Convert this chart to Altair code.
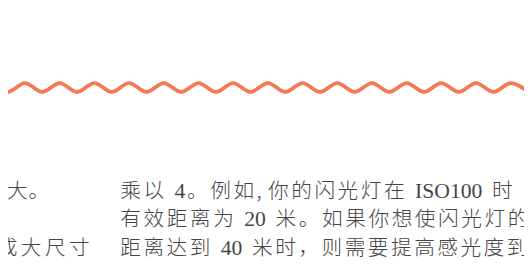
import altair as alt
import pandas as pd

# ---- data (reference pixel coordinates) ----
wave_x = [-10.1, 7.6, 25.2, 42.8, 60.4, 78.1, 95.7, 113.3, 130.9, 148.6,
          166.2, 183.8, 201.4, 219.1, 236.6, 254.3, 271.9, 289.5, 307.1, 324.8,
          342.4, 360.0, 377.6, 395.3, 412.8, 430.5, 448.1, 465.8, 483.3, 501.0,
          518.6, 536.3]
wave_y = [82.3, 91.3, 82.3, 91.3, 82.3, 91.3, 82.3, 91.3, 82.3, 91.3,
          82.3, 91.3, 82.3, 91.3, 82.3, 91.3, 82.3, 91.3, 82.3, 91.3,
          82.3, 91.3, 82.3, 91.3, 82.3, 91.3, 82.3, 91.3, 82.3, 91.3,
          82.3, 91.3]

left_lines = ["越大。", "", "制成大尺寸"]
right_lines = ["乘以 4。例如,你的闪光灯在 ISO100 时",
               "有效距离为 20 米。如果你想使闪光灯的",
               "距离达到 40 米时，则需要提高感光度到"]

# ---- simple typesetting ----
BASELINES = [198.5, 227.8, 257.1]
LAT_FS = 22
TIMES = {"0": .5, "1": .5, "2": .5, "3": .5, "4": .5, "5": .5, "6": .5,
         "7": .5, "8": .5, "9": .5, "I": .333, "S": .556, "O": .722, ",": .45}


def tokenize(line):
    toks, i = [], 0
    while i < len(line):
        ch = line[i]
        if ch == " ":
            toks.append(("sp", ch)); i += 1
        elif ch.isascii():
            j = i
            while j < len(line) and line[j].isascii() and line[j] != " ":
                j += 1
            toks.append(("lat", line[i:j])); i = j
        else:
            toks.append(("cjk", ch)); i += 1
    return toks


def layout(line, x0, y, pitch=21.8, space=8.0, last_at=None):
    toks = tokenize(line)
    placed, x = [], x0
    for kind, t in toks:
        if kind == "sp":
            x += space
            continue
        placed.append([kind, t, x])
        if kind == "cjk":
            x += pitch
        else:
            x += sum(TIMES.get(c, .5) for c in t) * LAT_FS
    if last_at is not None and len(placed) > 1:
        extra = (last_at - placed[-1][2]) / (len(placed) - 1)
        for k, p in enumerate(placed):
            p[2] += extra * k
    return [{"kind": k, "t": t, "x": xx, "y": y} for k, t, xx in placed]


def split_latin(rows):
    # a lone latin comma is drawn with the CJK font like the reference
    for r in rows:
        if r["kind"] == "lat" and r["t"] == ",":
            r["kind"] = "cjk"
    return rows


rows = []
rows += layout(left_lines[0], -14.8, BASELINES[0])
rows += layout(left_lines[2], -28.0, BASELINES[2], pitch=24.5)
targets = [499.5, 515.5, 514.5]
for li, line in enumerate(right_lines):
    rows += layout(line, 122.0, BASELINES[li], last_at=targets[li])
text_df = pd.DataFrame(split_latin(rows))
wave_df = pd.DataFrame({"x": wave_x, "y": wave_y})

X = alt.Scale(domain=[8, 532], nice=False, zero=False)
Y = alt.Scale(domain=[264, 8], nice=False, zero=False)

wave = alt.Chart(wave_df).mark_line(
    color="#F57A52", strokeWidth=4, interpolate="monotone", clip=True
).encode(
    x=alt.X("x:Q", scale=X, axis=None),
    y=alt.Y("y:Q", scale=Y, axis=None),
)

base_text = alt.Chart(text_df).encode(
    x=alt.X("x:Q", scale=X, axis=None),
    y=alt.Y("y:Q", scale=Y, axis=None),
    text="t:N",
)
cjk = base_text.transform_filter(alt.datum.kind == "cjk").mark_text(
    align="left", baseline="alphabetic", font="Noto Sans CJK SC",
    fontSize=21, fontWeight=300, color="#454545", clip=True
)
lat = base_text.transform_filter(alt.datum.kind == "lat").mark_text(
    align="left", baseline="alphabetic", font="Liberation Serif",
    fontSize=LAT_FS, color="#454545", clip=True
)

chart = alt.layer(wave, cjk, lat).properties(
    width=524, height=256, padding=0,
    autosize=alt.AutoSizeParams(type="fit", contains="padding"),
    background="white",
).configure_view(stroke=None)

chart.save("out.html", embed_options={"renderer": "svg", "actions": False})
